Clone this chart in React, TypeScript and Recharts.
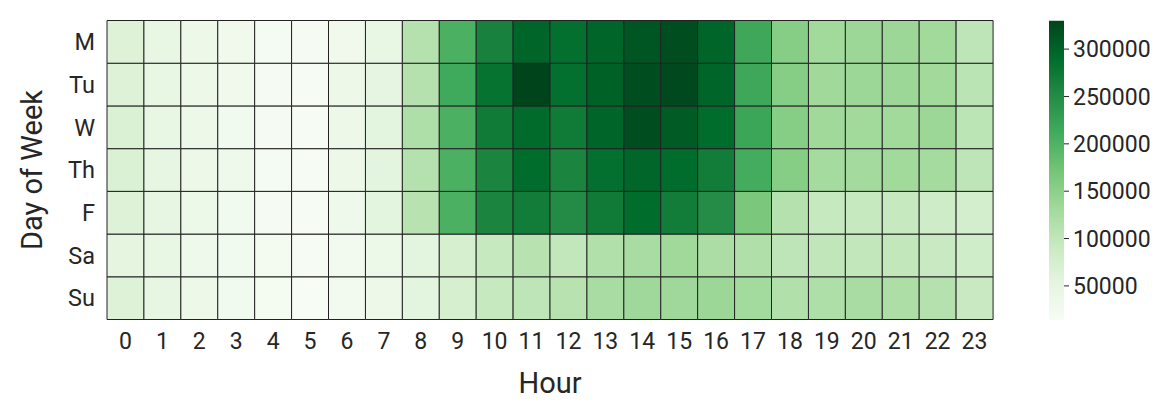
import React from 'react';
import { BarChart, Bar, XAxis, YAxis, Cell } from 'recharts';

// hour of day (x categories) and day rows (top to bottom)
const hours = ['0', '1', '2', '3', '4', '5', '6', '7', '8', '9', '10', '11', '12', '13', '14', '15', '16', '17', '18', '19', '20', '21', '22', '23'];
const days = ['M', 'Tu', 'W', 'Th', 'F', 'Sa', 'Su'];

// counts per hour
const monday = [64000, 46000, 36000, 30000, 20000, 19000, 30000, 46000, 112000, 204000, 264000, 298000, 286000, 298000, 313000, 320000, 298000, 216000, 156000, 131000, 136000, 137000, 131000, 102000];
const tuesday = [64000, 46000, 36000, 30000, 19000, 17000, 36000, 52000, 112000, 213000, 283000, 330000, 286000, 302000, 320000, 326000, 298000, 216000, 156000, 132000, 137000, 137000, 131000, 106000];
const wednesday = [68000, 46000, 36000, 28000, 18000, 16000, 36000, 55000, 118000, 204000, 273000, 292000, 273000, 298000, 320000, 308000, 290000, 219000, 156000, 132000, 131000, 131000, 136000, 104000];
const thursday = [68000, 49000, 36000, 33000, 20000, 17000, 36000, 55000, 112000, 204000, 260000, 290000, 260000, 286000, 297000, 290000, 270000, 210000, 156000, 128000, 129000, 131000, 128000, 102000];
const friday = [64000, 49000, 39000, 28000, 19000, 16000, 33000, 55000, 109000, 204000, 260000, 270000, 251000, 273000, 290000, 270000, 250000, 166000, 112000, 93000, 93000, 93000, 84000, 77000];
const saturday = [53000, 46000, 33000, 28000, 22000, 16000, 24000, 39000, 55000, 74000, 93000, 109000, 99000, 115000, 125000, 132000, 122000, 117000, 102000, 100000, 99000, 99000, 92000, 81000];
const sunday = [64000, 49000, 36000, 27000, 21000, 14000, 24000, 36000, 55000, 74000, 93000, 102000, 109000, 125000, 134000, 134000, 137000, 130000, 115000, 118000, 124000, 121000, 112000, 92000];

const rows: Record<string, number[]> = {
  M: monday,
  Tu: tuesday,
  W: wednesday,
  Th: thursday,
  F: friday,
  Sa: saturday,
  Su: sunday,
};

const VMIN = 14000;
const VMAX = 330000;
const colorbarTicks = [50000, 100000, 150000, 200000, 250000, 300000];

// matplotlib "Greens"
const GREENS = ['#f7fcf5', '#e5f5e0', '#c7e9c0', '#a1d99b', '#74c476', '#41ab5d', '#238b45', '#006d2c', '#00441b'];

const hexToRgb = (hex: string) => [1, 3, 5].map(i => parseInt(hex.slice(i, i + 2), 16));

const colorFor = (v: number) => {
  const t = Math.min(1, Math.max(0, (v - VMIN) / (VMAX - VMIN)));
  const pos = t * (GREENS.length - 1);
  const i = Math.min(GREENS.length - 2, Math.floor(pos));
  const f = pos - i;
  const a = hexToRgb(GREENS[i]);
  const b = hexToRgb(GREENS[i + 1]);
  const c = a.map((x, k) => Math.round(x + (b[k] - x) * f));
  return `rgb(${c[0]},${c[1]},${c[2]})`;
};

const TEXT = '#262626';
const FONT = 'Roboto, sans-serif';

export default function App() {
  // one unit per day, stacked, so every cell is the same size
  const heatData = hours.map(h => {
    const row: Record<string, string | number> = { hour: h };
    days.forEach(d => { row[d] = 1; });
    return row;
  });

  const colorbarData = [{ name: 'scale', range: [VMIN, VMAX] }];

  return (
    <div style={{ position: 'relative', width: 1174, height: 404, fontFamily: FONT }}>
      <style>{'body { margin: 0; }'}</style>

      <div style={{ position: 'absolute', left: 0, top: 0 }}>
        <BarChart
          width={1000}
          height={404}
          data={heatData}
          margin={{ top: 20.5, right: 7, bottom: 24.5, left: 0 }}
          barCategoryGap={0}
          barGap={0}
        >
          <XAxis
            dataKey="hour"
            interval={0}
            tickLine={false}
            axisLine={false}
            height={60}
            tickSize={6}
            tickMargin={7.5}
            tick={{ fill: TEXT, fontSize: 23, fontFamily: FONT }}
            label={{
              content: ({ viewBox }: any) => (
                <text
                  x={viewBox.x + viewBox.width / 2}
                  y={viewBox.y + 73.5}
                  textAnchor="middle"
                  fill={TEXT}
                  fontSize={29}
                  fontFamily={FONT}
                >
                  Hour
                </text>
              ),
            }}
          />
          <YAxis
            type="number"
            domain={[0, 7]}
            ticks={[0.5, 1.5, 2.5, 3.5, 4.5, 5.5, 6.5]}
            interval={0}
            tickFormatter={(v: number) => days[Math.floor(7 - v)]}
            tickLine={false}
            axisLine={false}
            width={107}
            tickSize={6}
            tickMargin={6}
            tick={{ fill: TEXT, fontSize: 23.5, fontFamily: FONT }}
            label={{
              content: ({ viewBox }: any) => {
                const cx = viewBox.x + 42;
                const cy = viewBox.y + viewBox.height / 2;
                return (
                  <text
                    x={cx}
                    y={cy}
                    transform={`rotate(-90, ${cx}, ${cy})`}
                    textAnchor="middle"
                    fill={TEXT}
                    fontSize={29}
                    fontFamily={FONT}
                  >
                    Day of Week
                  </text>
                );
              },
            }}
          />
          {/* first stacked bar sits at the bottom, so Sunday goes first */}
          {[...days].reverse().map(d => (
            <Bar key={d} dataKey={d} stackId="cells" stroke="#222222" strokeWidth={1} isAnimationActive={false}>
              {hours.map((h, i) => (
                <Cell key={h} fill={colorFor(rows[d][i])} />
              ))}
            </Bar>
          ))}
        </BarChart>
      </div>

      {/* colorbar */}
      <div style={{ position: 'absolute', left: 1040, top: 0 }}>
        <BarChart
          width={134}
          height={404}
          data={colorbarData}
          margin={{ top: 20.7, right: 0, bottom: 84, left: 9 }}
          barCategoryGap={0}
        >
          <defs>
            <linearGradient id="greensScale" x1="0" y1="1" x2="0" y2="0">
              {GREENS.map((c, i) => (
                <stop key={c} offset={`${(i / (GREENS.length - 1)) * 100}%`} stopColor={c} />
              ))}
            </linearGradient>
          </defs>
          <XAxis dataKey="name" hide />
          <YAxis
            type="number"
            orientation="right"
            domain={[VMIN, VMAX]}
            ticks={colorbarTicks}
            interval={0}
            width={110}
            axisLine={false}
            tickSize={5}
            tickMargin={4}
            tickLine={{ stroke: TEXT, strokeWidth: 1 }}
            tick={{ fill: TEXT, fontSize: 23, fontFamily: FONT }}
          />
          <Bar dataKey="range" fill="url(#greensScale)" isAnimationActive={false} />
        </BarChart>
      </div>
    </div>
  );
}
